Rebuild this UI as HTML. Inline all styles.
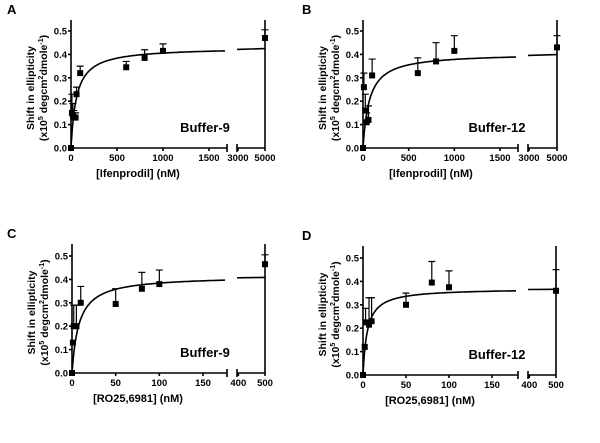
<!DOCTYPE html>
<html><head><meta charset="utf-8"><style>
html,body{margin:0;padding:0;background:#fff;}
svg{display:block;font-family:"Liberation Sans",Arial,sans-serif;font-weight:bold;}
</style></head><body>
<svg id="fig" width="600" height="443" viewBox="0 0 600 443" xmlns="http://www.w3.org/2000/svg"></svg>
<script>
// Panel A data
const aX = [0, 10, 20, 30, 50, 60, 100, 600, 800, 1000, 5000];
const aY = [0, 0.15, 0.14, 0.13, 0.13, 0.23, 0.32, 0.345, 0.385, 0.415, 0.47];
const aErr = [0, 0.08, 0.05, 0.03, 0.02, 0.03, 0.03, 0.025, 0.035, 0.03, 0.035];
// Panel B data
const bX = [0, 10, 25, 40, 60, 100, 600, 800, 1000, 5000];
const bY = [0, 0.26, 0.16, 0.11, 0.12, 0.31, 0.32, 0.37, 0.415, 0.43];
const bErr = [0, 0.06, 0.07, 0.04, 0.06, 0.07, 0.065, 0.08, 0.065, 0.05];
// Panel C data
const cX = [0, 1, 2, 5, 10, 50, 80, 100, 500];
const cY = [0, 0.13, 0.2, 0.2, 0.3, 0.295, 0.36, 0.38, 0.465];
const cErr = [0, 0, 0.09, 0.09, 0.07, 0.065, 0.07, 0.06, 0.04];
// Panel D data
const dX = [0, 2, 3, 7, 10, 50, 80, 100, 500];
const dY = [0, 0.12, 0.225, 0.215, 0.23, 0.3, 0.395, 0.375, 0.36];
const dErr = [0, 0, 0.06, 0.115, 0.1, 0.05, 0.09, 0.07, 0.09];
// Fit parameters (Bmax, Kd)
const fitA = [0.43, 60];
const fitB = [0.405, 70];
const fitC = [0.415, 8];
const fitD = [0.37, 5];
// Tick labels
const ticksIfen = [0, 500, 1000, 1500];
const ticksRo = [0, 50, 100, 150];
const yTicks = [0.0, 0.1, 0.2, 0.3, 0.4, 0.5];

const NS = "http://www.w3.org/2000/svg";
const svg = document.getElementById('fig');
function mk(tag, attrs, parent, text) {
  const e = document.createElementNS(NS, tag);
  for (const k in attrs) e.setAttribute(k, attrs[k]);
  if (text !== undefined) e.textContent = text;
  (parent || svg).appendChild(e);
  return e;
}

function panel(cfg) {
  const g = mk('g', {});
  
  
  const L = cfg.left, y0 = cfg.y0, pxPer01 = 23.4, top = cfg.top;
  const yS = v => y0 - v * pxPer01 * 10;
  const x1S = v => L + v / cfg.seg1Max * (cfg.seg1Px - L);
  const xS = v => v <= cfg.seg1Max ? x1S(v)
      : cfg.seg2Start + (v - cfg.seg2Min) / (cfg.xMax - cfg.seg2Min) * (cfg.right - cfg.seg2Start);
  const stroke = {stroke: '#000', 'stroke-width': 1.6, fill: 'none'};
  const lt = mk('text', {x: cfg.letterX, y: top - 6, 'font-size': 13}, g, cfg.letter);
   
  const ya = mk('line', Object.assign({x1: L, y1: top, x2: L, y2: y0}, stroke), g);
   
  const ra = mk('line', Object.assign({x1: cfg.right, y1: top, x2: cfg.right, y2: y0}, stroke), g);
   
  const xa1 = mk('line', Object.assign({x1: L, y1: y0, x2: cfg.brkEnd, y2: y0}, stroke), g);
   
  mk('line', Object.assign({x1: cfg.brkEnd, y1: y0 - 4, x2: cfg.brkEnd, y2: y0 + 4}, stroke), g);
  const xa2 = mk('line', Object.assign({x1: cfg.seg2Start, y1: y0, x2: cfg.right, y2: y0}, stroke), g);
   
  mk('line', Object.assign({x1: cfg.seg2Start, y1: y0 - 4, x2: cfg.seg2Start, y2: y0 + 4}, stroke), g);
  yTicks.forEach(t => {
    const y = yS(t);
    mk('line', Object.assign({x1: L - 3, y1: y, x2: L, y2: y}, stroke), g);
    const tl = mk('text', {x: L - 4, y: y + 3.5, 'font-size': 9.5, 'text-anchor': 'end'}, g, t.toFixed(1));
     
  });
  cfg.xTicks.concat([cfg.seg2Tick, cfg.xMax]).forEach(t => {
    const x = xS(t);
    mk('line', Object.assign({x1: x, y1: y0, x2: x, y2: y0 + 3}, stroke), g);
    const tl = mk('text', {x: x, y: y0 + 13, 'font-size': 9.5, 'text-anchor': 'middle'}, g, String(t));
     
  });
  const xt = mk('text', {x: cfg.xTitleX, y: y0 + 29, 'font-size': 11, 'text-anchor': 'middle'}, g, cfg.xTitle);
   
  const ymid = (top + y0) / 2 + 4;
  const yt1 = mk('text', {x: 0, y: 0, 'font-size': 10.5, 'text-anchor': 'middle', transform: `translate(${L - 37},${ymid}) rotate(-90)`}, g, 'Shift in ellipticity');
   
  const yt2 = mk('text', {x: 0, y: 0, 'font-size': 10.5, 'text-anchor': 'middle', transform: `translate(${L - 24},${ymid}) rotate(-90)`}, g);
   
  yt2.innerHTML = '(x10<tspan dy="-4" font-size="7">5</tspan><tspan dy="4"> degcm</tspan><tspan dy="-4" font-size="7">2</tspan><tspan dy="4">dmole</tspan><tspan dy="-4" font-size="7">-1</tspan><tspan dy="4">)</tspan>';
  const bl = mk('text', {x: cfg.bufX, y: y0 - 16, 'font-size': 13, 'text-anchor': 'middle'}, g, cfg.buffer);
   
  const [bm, kd] = cfg.fit;
  const vEnd = (cfg.curveEndPx - L) / (cfg.seg1Px - L) * cfg.seg1Max;
  let d = '';
  for (let i = 0; i <= 200; i++) {
    const v = vEnd * Math.pow(i / 200, 2);
    d += (i ? 'L' : 'M') + x1S(v).toFixed(1) + ',' + yS(bm * v / (kd + v)).toFixed(1);
  }
  const c1 = mk('path', Object.assign({d: d}, stroke), g);
   
  const v2a = cfg.seg2Min, v2b = cfg.xMax;
  const c2 = mk('path', Object.assign({d: `M${cfg.seg2Start},${yS(bm * v2a / (kd + v2a))}L${cfg.right},${yS(bm * v2b / (kd + v2b))}`}, stroke), g);
   
  cfg.xs.forEach((xv, i) => {
    const x = xS(xv), y = yS(cfg.ys[i]);
    if (cfg.errs[i] > 0) {
      const ye = yS(cfg.ys[i] + cfg.errs[i]);
      const eb = mk('path', {d: `M${x},${y}V${ye}M${x - 3.5},${ye}H${x + 3.5}`, stroke: '#000', 'stroke-width': 1.2, fill: 'none'}, g);
       
    }
    const p = mk('rect', {x: x - 3, y: y - 3, width: 6, height: 6, fill: '#000'}, g);
     
  });
}

panel({letter: 'A', letterX: 7, left: 71, right: 265, top: 20, y0: 148, brkEnd: 227, seg1Max: 1500, seg1Px: 209,
  seg2Start: 237, seg2Min: 2930, seg2Tick: 3000, xMax: 5000, xTicks: ticksIfen, curveEndPx: 225,
  xTitle: '[Ifenprodil] (nM)', xTitleX: 138, bufX: 205, buffer: 'Buffer-9', fit: fitA, xs: aX, ys: aY, errs: aErr});
panel({letter: 'B', letterX: 302, left: 363, right: 557, top: 20, y0: 148, brkEnd: 518, seg1Max: 1500, seg1Px: 500,
  seg2Start: 528, seg2Min: 2930, seg2Tick: 3000, xMax: 5000, xTicks: ticksIfen, curveEndPx: 516,
  xTitle: '[Ifenprodil] (nM)', xTitleX: 431, bufX: 497, buffer: 'Buffer-12', fit: fitB, xs: bX, ys: bY, errs: bErr});
panel({letter: 'C', letterX: 7, left: 72, right: 265, top: 244, y0: 373, brkEnd: 227, seg1Max: 150, seg1Px: 203,
  seg2Start: 237, seg2Min: 395, seg2Tick: 400, xMax: 500, xTicks: ticksRo, curveEndPx: 225,
  xTitle: '[RO25,6981] (nM)', xTitleX: 138, bufX: 205, buffer: 'Buffer-9', fit: fitC, xs: cX, ys: cY, errs: cErr});
panel({letter: 'D', letterX: 302, left: 363, right: 556, top: 246, y0: 375, brkEnd: 518, seg1Max: 150, seg1Px: 492,
  seg2Start: 528, seg2Min: 395, seg2Tick: 400, xMax: 500, xTicks: ticksRo, curveEndPx: 516,
  xTitle: '[RO25,6981] (nM)', xTitleX: 430, bufX: 497, buffer: 'Buffer-12', fit: fitD, xs: dX, ys: dY, errs: dErr});
</script>
</body></html>
